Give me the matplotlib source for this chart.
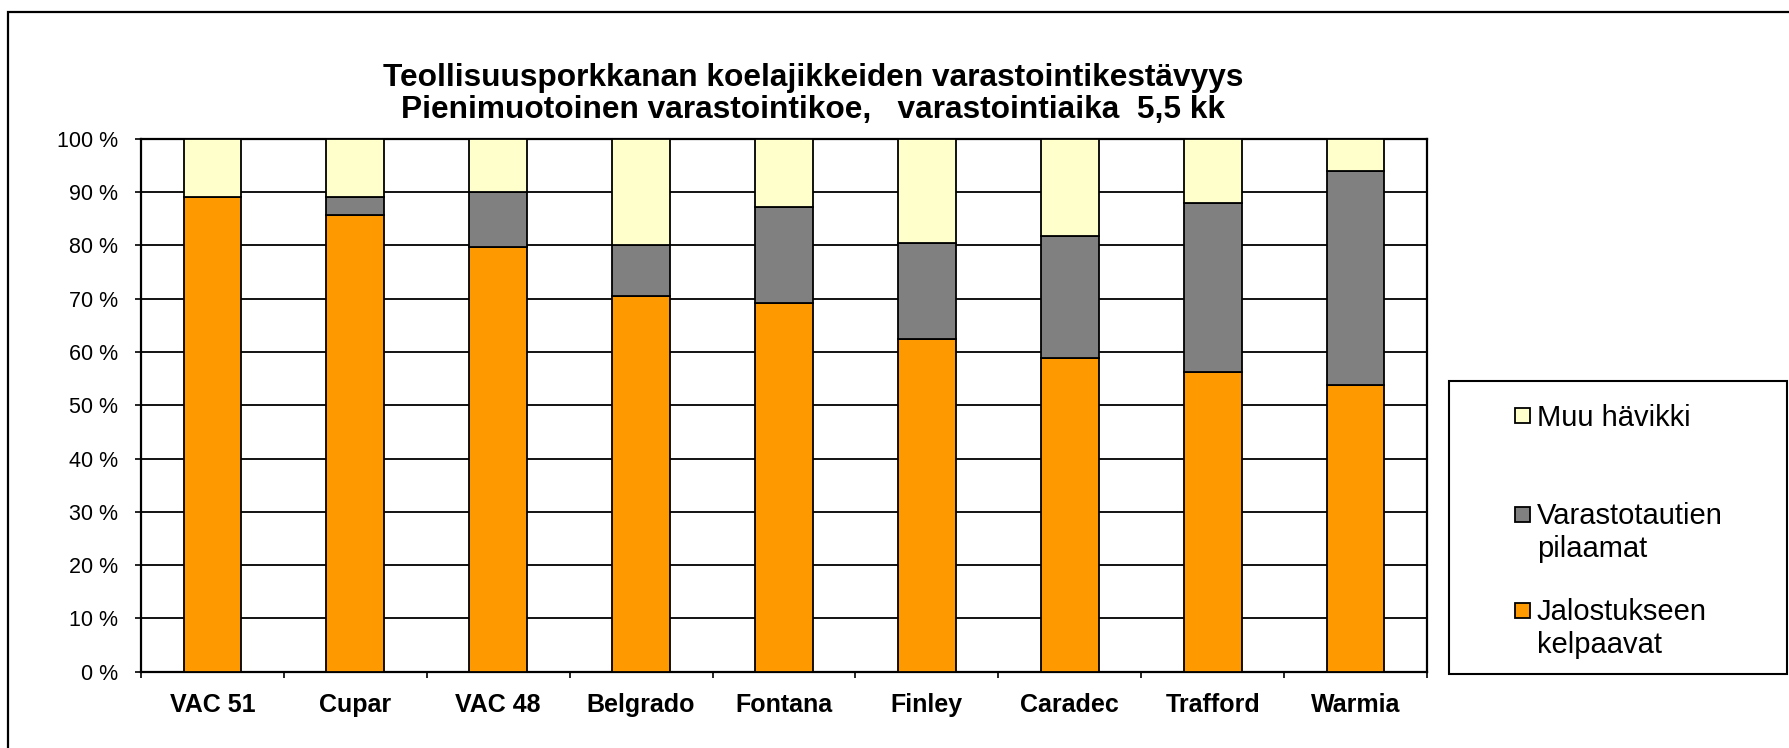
import numpy as np
import matplotlib
matplotlib.use('Agg')
import matplotlib.pyplot as plt
from matplotlib.patches import Rectangle
from matplotlib.ticker import FuncFormatter, FixedLocator

plt.rcParams['font.family'] = ['Liberation Sans', 'DejaVu Sans']

# data (percent of roots)
lajikkeet = ['VAC 51', 'Cupar', 'VAC 48', 'Belgrado', 'Fontana',
             'Finley', 'Caradec', 'Trafford', 'Warmia']
jalostukseen = [89.1, 85.7, 79.7, 70.4, 69.2, 62.5, 58.8, 56.3, 53.8]
pilaamat = [0.0, 3.4, 10.3, 9.7, 18.0, 18.0, 22.9, 31.7, 40.1]
muu_havikki = [10.9, 10.9, 10.0, 19.9, 12.8, 19.5, 18.3, 12.0, 6.1]

series_colors = ['#FF9900', '#808080', '#FFFFCC']

title = ('Teollisuusporkkanan koelajikkeiden varastointikestävyys\n'
         'Pienimuotoinen varastointikoe,   varastointiaika  5,5 kk')

W, H = 1790, 748
fig = plt.figure(figsize=(W/100, H/100), dpi=100)
fig.patch.set_facecolor('white')

# outer chart frame (right and bottom edges fall outside the picture)
fig.add_artist(Rectangle((8/W, -0.1), 1.2, (H - 12)/H + 0.1, transform=fig.transFigure,
                         fill=False, edgecolor='black', lw=1.6))

ax = fig.add_axes([141/W, (H - 671.7)/H, (1427 - 141)/W, 533/H])

x = np.arange(len(lajikkeet))
bw = 0.404
bottom = np.zeros(len(x))
for vals, col in zip([jalostukseen, pilaamat, muu_havikki], series_colors):
    vals = np.array(vals)
    ax.bar(x, vals, bw, bottom=bottom, color=col, edgecolor='black', lw=1.3, zorder=3)
    bottom += vals

ax.set_xlim(-0.5, len(x) - 0.5)
ax.set_ylim(0, 100)
ax.set_yticks(np.arange(0, 101, 10))
ax.yaxis.set_major_formatter(FuncFormatter(lambda v, p: f'{int(v)} %'))
ax.yaxis.grid(True, color='black', lw=1.3)
ax.set_axisbelow(True)
ax.tick_params(axis='y', direction='out', length=4.5, width=1.2, pad=12, labelsize=15.5)

ax.set_xticks(x)
ax.set_xticklabels(lajikkeet, fontweight='bold', fontsize=18)
ax.xaxis.set_minor_locator(FixedLocator(np.arange(-0.5, len(x), 1.0)))
ax.tick_params(axis='x', which='major', length=0, pad=15)
ax.tick_params(axis='x', which='minor', direction='out', length=4.5, width=1.2)

for s in ax.spines.values():
    s.set_color('black')
    s.set_linewidth(1.6)

fig.text(813/W, 1 - 94/H, title, ha='center', va='center', fontsize=22.8,
         fontweight='bold', multialignment='center', linespacing=1.1)

# legend box drawn by hand so that markers sit on the first text line
fig.add_artist(Rectangle((1449/W, 1 - 674/H), (1787 - 1449)/W, (674 - 381)/H,
                         transform=fig.transFigure, fill=False, edgecolor='black', lw=1.5))
leg_items = [(['Muu hävikki'], '#FFFFCC', 415),
             (['Varastotautien', 'pilaamat'], '#808080', 514),
             (['Jalostukseen', 'kelpaavat'], '#FF9900', 610)]
for lines, col, yy in leg_items:
    fig.add_artist(Rectangle((1515/W, 1 - (yy + 7.5)/H), 15/W, 15/H,
                             transform=fig.transFigure, facecolor=col,
                             edgecolor='black', lw=1.3))
    for k, line in enumerate(lines):
        fig.text(1537/W, 1 - (yy + 10.5 + 32.5*k)/H, line, ha='left', va='baseline',
                 fontsize=21)

fig.savefig('out.png', dpi=100)
